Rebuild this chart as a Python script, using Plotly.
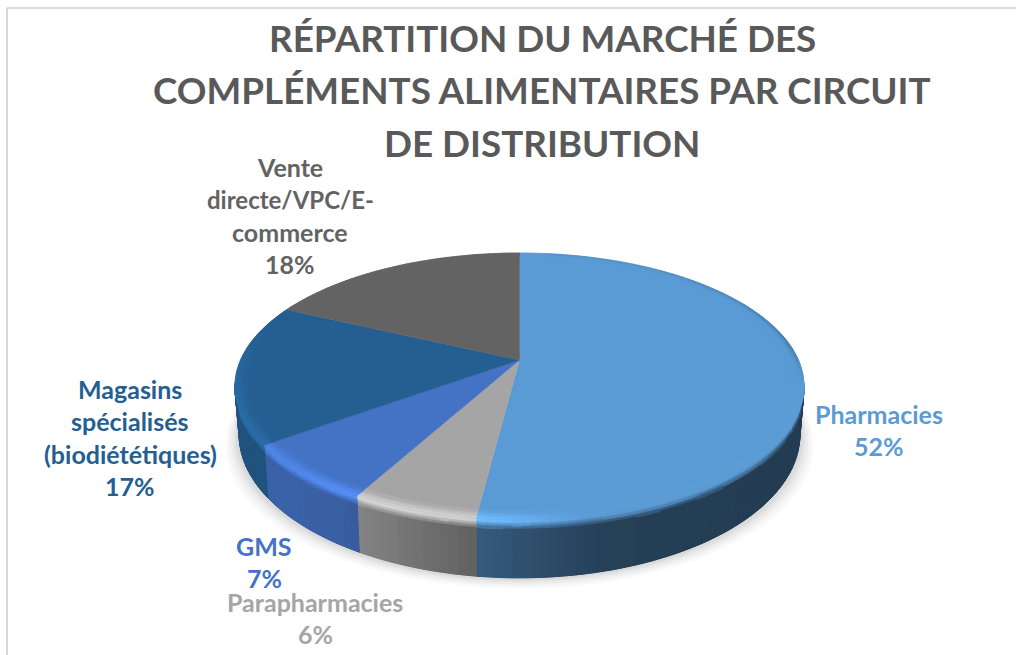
import numpy as np
import plotly.graph_objects as go

# ---- data ----
categories = ["Pharmacies", "Parapharmacies", "GMS", "Magasins spécialisés (biodiététiques)", "Vente directe/VPC/E-commerce"]
values = [52, 6, 7, 17, 18]
colors = ["#5B9BD5", "#A5A5A5", "#4472C4", "#255E91", "#636363"]
label_lines = [["Pharmacies"], ["Parapharmacies"], ["GMS"],
               ["Magasins", "spécialisés", "(biodiététiques)"],
               ["Vente", "directe/VPC/E-", "commerce"]]
label_x = [879, 315, 264, 130, 290]
label_top = [414, 602, 546, 389, 167]
title_lines = ["RÉPARTITION DU MARCHÉ DES", "COMPLÉMENTS ALIMENTAIRES PAR CIRCUIT", "DE DISTRIBUTION"]
title_y = [38, 90, 143]

# ---- perspective of the pie disc (pixel axes) ----
CX, CY, A, B, K, D, SHRINK = 519.5, 360.0, 279.0, 128.2, 0.198, 46.5, 0.985
FONT = "Lato"


def project(phi, r=1.0):
    """phi: clockwise radians from 12 o'clock, r: disc radius fraction."""
    u, v = r * np.sin(phi), r * np.cos(phi)
    w = 1 + K * v
    return CX + A * u / w, CY - B * v / w


def wall(phi, t):
    x, y = project(phi)
    w = 1 + K * np.cos(phi)
    s = 1 - (1 - SHRINK) * t
    return CX + (x - CX) * s, y + t * D / w


def rgb(c):
    return np.array([int(c[i:i + 2], 16) for i in (1, 3, 5)], float)


def hexa(a):
    a = np.clip(np.round(a / 2) * 2, 0, 255).astype(int)
    return "#%02x%02x%02x" % tuple(a)


def side_mult(u):
    return np.interp(u, [-1, -0.55, -0.15, 0.25, 1], [0.88, 0.84, 0.6, 0.41, 0.38])


def glow(u):
    return np.interp(u, [-1, -0.7, -0.45, -0.15, 0.2], [0.15, 0.2, 0.3, 0.28, 0.0])


polys = {}


def add(col, xs, ys):
    polys.setdefault(col, []).append((xs, ys))


edges = np.concatenate([[0], np.cumsum(values)]) / sum(values) * 2 * np.pi

fig = go.Figure()

# soft shadow under the pie
phs = np.linspace(np.pi * 0.42, np.pi * 1.58, 160)
for grow, op in zip([1.05, 1.04, 1.03, 1.02, 1.012], [0.018, 0.025, 0.03, 0.035, 0.04]):
    xb, yb = wall(phs, 1.0)
    xs = CX + (xb - CX) * grow
    ys = yb + (grow - 1) * 220
    xt, yt = project(phs[::-1])
    fig.add_trace(go.Scatter(x=np.r_[xs, xt], y=np.r_[ys, yt], mode="lines", fill="toself",
                             fillcolor=f"rgba(0,0,0,{op})", line=dict(width=0), hoverinfo="skip", showlegend=False))

# walls: a solid underlay per slice, then the shaded facets
tl = np.array([0, 0.03, 0.06, 0.09, 0.12, 0.16, 0.2, 0.3, 1.0])
for i, c in enumerate(colors):
    base = rgb(c)
    a0, a1 = edges[i], edges[i + 1]
    n = max(2, int((a1 - a0) / np.radians(1.5)))
    ph = np.linspace(a0, a1, n + 1)
    keep = np.cos(ph) <= -K + 0.02
    if keep.sum() >= 2:
        vis = ph[keep]
        xa, ya = wall(vis, 0.0)
        xb, yb = wall(vis[::-1], 1.0)
        under = hexa(base * side_mult(np.sin(vis.mean())))
        fig.add_trace(go.Scatter(x=np.r_[xa, xb], y=np.r_[ya, yb], mode="lines", fill="toself",
                                 fillcolor=under, line=dict(color=under, width=0.5),
                                 hoverinfo="skip", showlegend=False))
    for p0, p1 in zip(ph[:-1], ph[1:]):
        pm = (p0 + p1) / 2
        if np.cos(pm) > -K + 0.02:
            continue
        u = np.sin(pm)
        dark = base * side_mult(u)
        hi = np.minimum(base * (1 + glow(u)), 255)
        for t0, t1 in zip(tl[:-1], tl[1:]):
            tm = (t0 + t1) / 2
            f = np.clip((tm - 0.04) / 0.14, 0, 1)
            col = hi * (1 - f) + dark * f
            x00, y00 = wall(p0, t0); x10, y10 = wall(p1, t0)
            x11, y11 = wall(p1, t1); x01, y01 = wall(p0, t1)
            add(hexa(col), [x00, x10, x11, x01, x00], [y00, y10, y11, y01, y00])

for col, items in polys.items():
    xs, ys = [], []
    for a, b in items:
        xs += list(a) + [None]
        ys += list(b) + [None]
    fig.add_trace(go.Scatter(x=xs, y=ys, mode="lines", fill="toself", fillcolor=col,
                             line=dict(color=col, width=1), hoverinfo="skip", showlegend=False))
polys = {}

# top wedges
for i, c in enumerate(colors):
    ph = np.linspace(edges[i], edges[i + 1], max(3, int(values[i] * 4)))
    x, y = project(ph)
    fig.add_trace(go.Scatter(x=np.r_[CX, x, CX], y=np.r_[CY, y, CY], mode="lines", fill="toself",
                             fillcolor=c, line=dict(color=c, width=0.5), name=categories[i],
                             hoverinfo="name", showlegend=False))

# bevel ring on the disc edge
rl = np.array([0.955, 0.97, 0.98, 0.99, 1.0])
for i, c in enumerate(colors):
    base = rgb(c)
    a0, a1 = edges[i], edges[i + 1]
    n = max(2, int((a1 - a0) / np.radians(1.5)))
    ph = np.linspace(a0, a1, n + 1)
    for p0, p1 in zip(ph[:-1], ph[1:]):
        pm = (p0 + p1) / 2
        u, v = np.sin(pm), np.cos(pm)
        front = np.clip((0.35 - v) / 0.6, 0, 1)
        hi = np.minimum(base * (1 + glow(u) * front), 255)
        for r0, r1 in zip(rl[:-1], rl[1:]):
            f = ((r0 + r1) / 2 - rl[0]) / (rl[-1] - rl[0])
            col = base * (1 - f) + hi * f
            if u > 0.1 and v > -0.2:
                # far right edge: only a thin dark blur
                shade = np.interp(v, [-0.2, 0.1, 0.9], [1.0, 0.72, 0.9])
                col = base * (1 - (1 - shade) * f ** 4)
            x0, y0 = project(p0, r0); x1, y1 = project(p1, r0)
            x2, y2 = project(p1, r1); x3, y3 = project(p0, r1)
            add(hexa(col), [x0, x1, x2, x3, x0], [y0, y1, y2, y3, y0])

for col, items in polys.items():
    xs, ys = [], []
    for a, b in items:
        xs += list(a) + [None]
        ys += list(b) + [None]
    fig.add_trace(go.Scatter(x=xs, y=ys, mode="lines", fill="toself", fillcolor=col,
                             line=dict(color=col, width=0.6), hoverinfo="skip", showlegend=False))

# texts
ann = []
for t, y in zip(title_lines, title_y):
    ann.append(dict(x=542, y=y, text=f"<b>{t}</b>", showarrow=False, xref="x", yref="y",
                    font=dict(family=FONT, size=36.8, color="#595959")))
for i, lines in enumerate(label_lines):
    for j, t in enumerate(lines + [f"{values[i]}%"]):
        size = 24 if t == "directe/VPC/E-" else 25
        ann.append(dict(x=label_x[i], y=label_top[i] + j * 32.3, text=f"<b>{t}</b>", showarrow=False,
                        xref="x", yref="y", font=dict(family=FONT, size=size, color=colors[i])))

frame = dict(color="#d9d9d9", width=2)
fig.update_layout(
    width=1016, height=655, autosize=False, margin=dict(l=0, r=0, t=0, b=0),
    paper_bgcolor="white", plot_bgcolor="white", showlegend=False, annotations=ann,
    xaxis=dict(range=[0, 1016], visible=False, fixedrange=True),
    yaxis=dict(range=[655, 0], visible=False, fixedrange=True),
    shapes=[dict(type="line", x0=7, x1=7, y0=8, y1=655, line=frame),
            dict(type="line", x0=7, x1=1016, y0=8, y1=8, line=frame)],
)
fig.write_html("out.html", config=dict(displayModeBar=False),
               post_script="document.body.style.margin='0';document.body.style.overflow='hidden';")
